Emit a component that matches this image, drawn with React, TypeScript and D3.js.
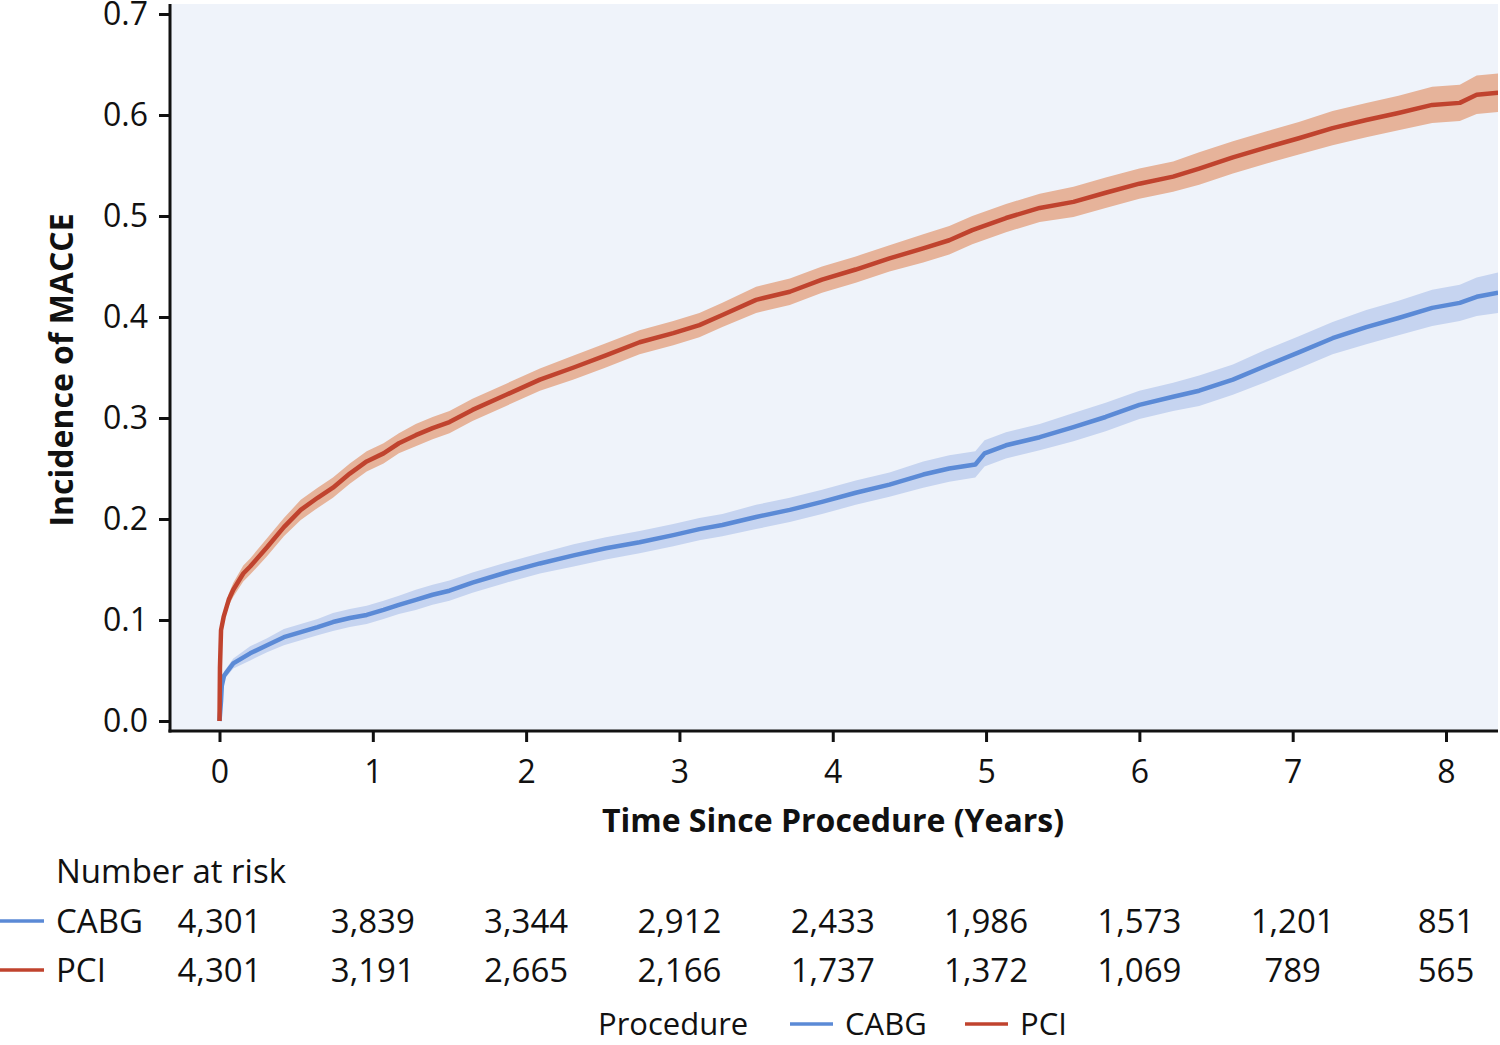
import { useEffect, useRef } from "react"
import * as d3 from "d3"

// Kaplan-Meier style cumulative incidence
const pciTime = [0, 0.003, 0.01, 0.027, 0.06, 0.09, 0.155, 0.2, 0.31, 0.42, 0.53, 0.64, 0.74, 0.85, 0.96, 1.07, 1.17, 1.28, 1.39, 1.5, 1.65, 1.87, 2.09, 2.31, 2.52, 2.74, 2.96, 3.13, 3.28, 3.5, 3.72, 3.93, 4.15, 4.37, 4.59, 4.76, 4.91, 5.13, 5.35, 5.57, 5.78, 6.0, 6.22, 6.39, 6.61, 6.83, 7.04, 7.26, 7.48, 7.69, 7.91, 8.09, 8.2, 8.34]
const pciValue = [0, 0.053, 0.09, 0.103, 0.12, 0.13, 0.146, 0.153, 0.172, 0.192, 0.209, 0.221, 0.231, 0.245, 0.257, 0.265, 0.275, 0.283, 0.29, 0.296, 0.308, 0.323, 0.338, 0.35, 0.362, 0.375, 0.384, 0.392, 0.402, 0.417, 0.425, 0.437, 0.447, 0.458, 0.468, 0.476, 0.486, 0.498, 0.508, 0.514, 0.523, 0.532, 0.539, 0.547, 0.558, 0.568, 0.577, 0.587, 0.595, 0.602, 0.61, 0.612, 0.62, 0.622]
const pciHalf = [0, 0.002, 0.004, 0.005, 0.006, 0.007, 0.008, 0.008, 0.009, 0.009, 0.01, 0.01, 0.01, 0.01, 0.01, 0.01, 0.01, 0.011, 0.011, 0.011, 0.011, 0.011, 0.011, 0.012, 0.012, 0.012, 0.012, 0.012, 0.012, 0.013, 0.013, 0.013, 0.013, 0.013, 0.014, 0.014, 0.014, 0.014, 0.014, 0.015, 0.015, 0.015, 0.015, 0.016, 0.016, 0.016, 0.016, 0.017, 0.017, 0.017, 0.018, 0.018, 0.019, 0.019]

const cabgTime = [0, 0.01, 0.015, 0.03, 0.09, 0.2, 0.31, 0.42, 0.53, 0.64, 0.74, 0.85, 0.96, 1.07, 1.17, 1.28, 1.39, 1.5, 1.65, 1.87, 2.09, 2.31, 2.52, 2.74, 2.96, 3.13, 3.28, 3.5, 3.72, 3.93, 4.15, 4.37, 4.59, 4.76, 4.93, 4.99, 5.13, 5.35, 5.57, 5.78, 6.0, 6.22, 6.39, 6.61, 6.83, 7.04, 7.26, 7.48, 7.69, 7.91, 8.09, 8.2, 8.34]
const cabgValue = [0, 0.02, 0.035, 0.045, 0.057, 0.067, 0.075, 0.083, 0.088, 0.093, 0.098, 0.102, 0.105, 0.11, 0.115, 0.12, 0.125, 0.129, 0.137, 0.147, 0.156, 0.164, 0.171, 0.177, 0.184, 0.19, 0.194, 0.202, 0.209, 0.217, 0.226, 0.234, 0.244, 0.25, 0.254, 0.265, 0.273, 0.281, 0.291, 0.301, 0.313, 0.321, 0.327, 0.338, 0.352, 0.365, 0.379, 0.39, 0.399, 0.409, 0.414, 0.42, 0.424]
const cabgHalf = [0, 0.002, 0.003, 0.004, 0.005, 0.007, 0.007, 0.008, 0.008, 0.008, 0.009, 0.009, 0.009, 0.009, 0.009, 0.01, 0.01, 0.01, 0.01, 0.01, 0.01, 0.011, 0.011, 0.011, 0.011, 0.011, 0.011, 0.012, 0.012, 0.012, 0.012, 0.012, 0.013, 0.013, 0.013, 0.013, 0.013, 0.013, 0.014, 0.014, 0.014, 0.014, 0.015, 0.015, 0.016, 0.016, 0.016, 0.017, 0.017, 0.018, 0.018, 0.019, 0.02]

const xTicks = [0, 1, 2, 3, 4, 5, 6, 7, 8]
const yTicks = [0, 0.1, 0.2, 0.3, 0.4, 0.5, 0.6, 0.7]

const riskGroups = ["CABG", "PCI"]
const cabgAtRisk = ["4,301", "3,839", "3,344", "2,912", "2,433", "1,986", "1,573", "1,201", "851"]
const pciAtRisk = ["4,301", "3,191", "2,665", "2,166", "1,737", "1,372", "1,069", "789", "565"]

const COLORS = {
  CABG: { line: "#5b8ad6", band: "#c6d4f0" },
  PCI: { line: "#c0432e", band: "#e6b39a" },
}

interface Pt { t: number; v: number; h: number }

function zip(t: number[], v: number[], h: number[]): Pt[] {
  return t.map((tt, i) => ({ t: tt, v: v[i], h: h[i] }))
}

export default function App() {
  const svgRef = useRef<SVGSVGElement>(null)

  useEffect(() => {
    if (!svgRef.current) return
    const svg = d3.select(svgRef.current)
    svg.selectAll("*").remove()

    const width = 1500
    const height = 1045
    const font = "'Open Sans', sans-serif"
    const ink = "#111"

    const x = d3.scaleLinear().domain([0, 8]).range([219.5, 1446])
    const y = d3.scaleLinear().domain([0, 0.7]).range([721, 14])

    svg.attr("width", width).attr("height", height)
    svg.append("rect").attr("width", width).attr("height", height).attr("fill", "#fff")

    // plot panel
    svg.append("rect")
      .attr("x", 171).attr("y", 4)
      .attr("width", 1498 - 171).attr("height", 730 - 4)
      .attr("fill", "#eff3fa")

    const clip = svg.append("clipPath").attr("id", "plotclip")
    clip.append("rect").attr("x", 171).attr("y", 4).attr("width", 1498 - 171).attr("height", 726)

    const series = [
      { name: "CABG", data: zip(cabgTime, cabgValue, cabgHalf) },
      { name: "PCI", data: zip(pciTime, pciValue, pciHalf) },
    ]

    const area = d3.area<Pt>()
      .x(d => x(d.t))
      .y0(d => y(Math.max(0, d.v - d.h)))
      .y1(d => y(d.v + d.h))

    const line = d3.line<Pt>()
      .x(d => x(d.t))
      .y(d => y(d.v))

    const plot = svg.append("g").attr("clip-path", "url(#plotclip)")
    series.forEach(s => {
      plot.append("path")
        .datum(s.data)
        .attr("fill", COLORS[s.name as "CABG" | "PCI"].band)
        .attr("d", area)
    })
    series.forEach(s => {
      plot.append("path")
        .datum(s.data)
        .attr("fill", "none")
        .attr("stroke", COLORS[s.name as "CABG" | "PCI"].line)
        .attr("stroke-width", 4.5)
        .attr("stroke-linejoin", "round")
        .attr("d", line)
    })

    // axes
    const yAxis = svg.append("g")
      .attr("transform", "translate(170,0)")
      .call(d3.axisLeft(y).tickValues(yTicks).tickFormat(d3.format(".1f")).tickSize(11).tickPadding(11))
    yAxis.select(".domain").remove()
    yAxis.selectAll(".tick line").attr("stroke", ink).attr("stroke-width", 3)
    yAxis.selectAll(".tick text")
      .attr("fill", ink).attr("font-size", 32).attr("font-family", font)

    const xAxis = svg.append("g")
      .attr("transform", "translate(0,731)")
      .call(d3.axisBottom(x).tickValues(xTicks).tickFormat(d3.format("d")).tickSize(11).tickPadding(18))
    xAxis.select(".domain").remove()
    xAxis.selectAll(".tick line").attr("stroke", ink).attr("stroke-width", 3)
    xAxis.selectAll(".tick text")
      .attr("fill", ink).attr("font-size", 32).attr("font-family", font)

    svg.append("line").attr("x1", 170).attr("x2", 170).attr("y1", 4).attr("y2", 732.5)
      .attr("stroke", ink).attr("stroke-width", 3)
    svg.append("line").attr("x1", 168.5).attr("x2", 1498).attr("y1", 731).attr("y2", 731)
      .attr("stroke", ink).attr("stroke-width", 3)

    // titles
    svg.append("text")
      .attr("x", 833).attr("y", 832)
      .attr("text-anchor", "middle")
      .attr("font-family", font).attr("font-weight", 700).attr("font-size", 32).attr("fill", ink)
      .text("Time Since Procedure (Years)")

    svg.append("text")
      .attr("transform", "translate(73,370) rotate(-90)")
      .attr("text-anchor", "middle")
      .attr("font-family", font).attr("font-weight", 700).attr("font-size", 32).attr("fill", ink)
      .text("Incidence of MACCE")

    // number at risk table
    svg.append("text")
      .attr("x", 56).attr("y", 883)
      .attr("font-family", font).attr("font-size", 33).attr("fill", ink)
      .text("Number at risk")

    const rows = [cabgAtRisk, pciAtRisk]
    const rowY = [933, 982]
    rows.forEach((vals, r) => {
      const name = riskGroups[r] as "CABG" | "PCI"
      svg.append("line")
        .attr("x1", 0).attr("x2", 44).attr("y1", rowY[r] - 12).attr("y2", rowY[r] - 12)
        .attr("stroke", COLORS[name].line).attr("stroke-width", 3.5)
      svg.append("text")
        .attr("x", 56).attr("y", rowY[r])
        .attr("font-family", font).attr("font-size", 33).attr("fill", ink)
        .text(name)
      svg.append("g")
        .selectAll("text")
        .data(vals)
        .join("text")
        .attr("x", (_d, i) => x(xTicks[i]))
        .attr("y", rowY[r])
        .attr("text-anchor", "middle")
        .attr("font-family", font).attr("font-size", 33).attr("fill", ink)
        .text(d => d)
    })

    // legend
    const lg = svg.append("g").attr("font-family", font).attr("font-size", 31).attr("fill", ink)
    lg.append("text").attr("x", 598).attr("y", 1035).text("Procedure")
    const legendItems = [
      { name: "CABG", x0: 790 },
      { name: "PCI", x0: 965 },
    ]
    legendItems.forEach(it => {
      lg.append("line")
        .attr("x1", it.x0).attr("x2", it.x0 + 43).attr("y1", 1024).attr("y2", 1024)
        .attr("stroke", COLORS[it.name as "CABG" | "PCI"].line).attr("stroke-width", 3.5)
      lg.append("text").attr("x", it.x0 + 55).attr("y", 1035).text(it.name)
    })
  }, [])

  return (
    <svg ref={svgRef} style={{ position: "absolute", left: 0, top: 0, display: "block" }} />
  )
}
